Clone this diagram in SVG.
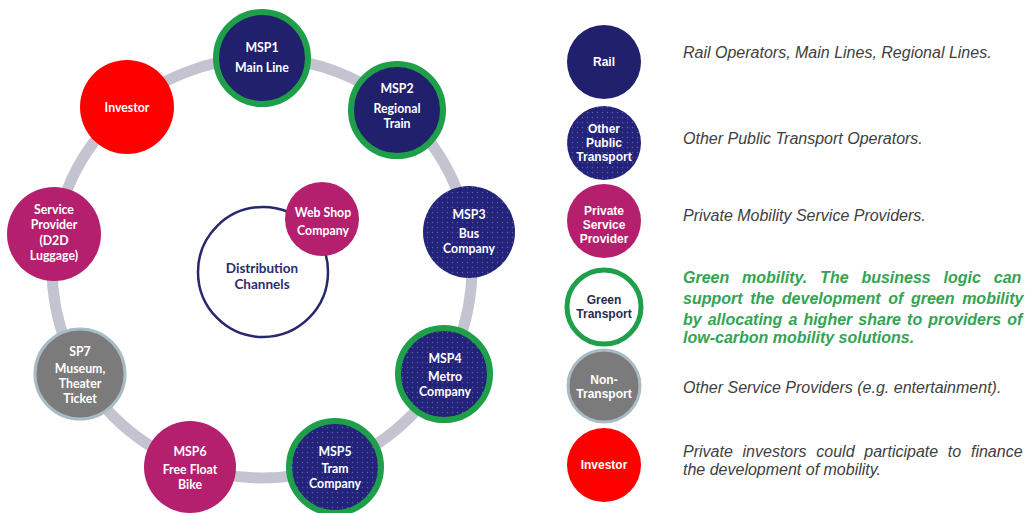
<svg xmlns="http://www.w3.org/2000/svg" width="1030" height="513" viewBox="0 0 1030 513">
<defs>
<pattern id="dots" width="5" height="5" patternUnits="userSpaceOnUse">
<rect width="5" height="5" fill="#23237a"/>
<circle cx="2.5" cy="2.5" r="0.7" fill="#5d5db5"/>
</pattern>
<style>
.rail{fill:#20206c}
.pub{fill:url(#dots)}
.priv{fill:#b4206e}
.inv{fill:#fe0000}
.non{fill:#7b7b7b;stroke:#a9bcc6;stroke-width:3}
.grn{stroke:#1f9f4a;stroke-width:6}
.nt{font-family:"Lato","Liberation Sans",sans-serif;font-weight:700;font-size:12.3px;fill:#fff;text-anchor:middle}
.lt{font-family:"Liberation Sans",Arial,sans-serif;font-weight:700;font-size:12px;fill:#fff;text-anchor:middle}
.desc{font-family:"Liberation Sans",Arial,sans-serif;font-style:italic;font-size:16px;fill:#404040}
.gdesc{font-family:"Liberation Sans",Arial,sans-serif;font-style:italic;font-weight:700;font-size:16px;fill:#33a453}
</style>
</defs>
<rect width="1030" height="513" fill="#fff"/>
<g id="connectors">
<circle cx="262" cy="268" r="210" fill="none" stroke="#c4c4d0" stroke-width="11"/>
</g>
<g id="distribution">
<circle cx="263" cy="272" r="65" fill="#fff" stroke="#27276e" stroke-width="2.5"/>
<text x="262" y="273" font-family="Lato,'Liberation Sans',sans-serif" font-weight="700" font-size="13.5" fill="#2b2b72" text-anchor="middle">Distribution</text>
<text x="262" y="289" font-family="Lato,'Liberation Sans',sans-serif" font-weight="700" font-size="13.5" fill="#2b2b72" text-anchor="middle">Channels</text>
</g>
<g id="webshop">
<circle cx="322" cy="219" r="37" class="priv"/>
<text class="nt" x="323" y="217">Web Shop</text>
<text class="nt" x="323" y="235">Company</text>
</g>
<g id="msp1">
<circle cx="262" cy="58" r="46" class="rail grn"/>
<text class="nt" x="262" y="52">MSP1</text>
<text class="nt" x="262" y="72">Main Line</text>
</g>
<g id="msp2">
<circle cx="397" cy="110" r="46" class="rail grn"/>
<text class="nt" x="397" y="93">MSP2</text>
<text class="nt" x="397" y="113">Regional</text>
<text class="nt" x="397" y="128">Train</text>
</g>
<g id="msp3">
<circle cx="469" cy="232" r="46" class="pub"/>
<text class="nt" x="469" y="219">MSP3</text>
<text class="nt" x="469" y="238">Bus</text>
<text class="nt" x="469" y="253">Company</text>
</g>
<g id="msp4">
<circle cx="444" cy="374" r="46" class="pub grn"/>
<text class="nt" x="445" y="363">MSP4</text>
<text class="nt" x="445" y="381">Metro</text>
<text class="nt" x="445" y="396">Company</text>
</g>
<g id="msp5">
<circle cx="335" cy="467" r="46" class="pub grn"/>
<text class="nt" x="335" y="456">MSP5</text>
<text class="nt" x="335" y="473">Tram</text>
<text class="nt" x="335" y="488">Company</text>
</g>
<g id="msp6">
<circle cx="190" cy="467" r="46" class="priv"/>
<text class="nt" x="190" y="456">MSP6</text>
<text class="nt" x="190" y="474">Free Float</text>
<text class="nt" x="190" y="489">Bike</text>
</g>
<g id="sp7">
<circle cx="80" cy="374" r="45" class="non"/>
<text class="nt" x="80" y="356">SP7</text>
<text class="nt" x="80" y="373">Museum,</text>
<text class="nt" x="80" y="388">Theater</text>
<text class="nt" x="80" y="403">Ticket</text>
</g>
<g id="serviceprovider">
<circle cx="54" cy="234" r="47" class="priv"/>
<text class="nt" x="54" y="214">Service</text>
<text class="nt" x="54" y="229">Provider</text>
<text class="nt" x="54" y="245">(D2D</text>
<text class="nt" x="54" y="260">Luggage)</text>
</g>
<g id="investor">
<circle cx="127" cy="107" r="47" class="inv"/>
<text class="nt" x="127" y="112">Investor</text>
</g>
<g id="legend">
<g id="leg-rail">
<circle cx="604" cy="62" r="37" class="rail"/>
<text class="lt" x="604" y="66">Rail</text>
<text class="desc" x="683" y="58">Rail Operators, Main Lines, Regional Lines.</text>
</g>
<g id="leg-public">
<circle cx="604" cy="143" r="37" class="pub"/>
<text class="lt" x="604" y="133">Other</text>
<text class="lt" x="604" y="147">Public</text>
<text class="lt" x="604" y="161">Transport</text>
<text class="desc" x="683" y="144">Other Public Transport Operators.</text>
</g>
<g id="leg-private">
<circle cx="604" cy="221" r="37" class="priv"/>
<text class="lt" x="604" y="215">Private</text>
<text class="lt" x="604" y="229">Service</text>
<text class="lt" x="604" y="243">Provider</text>
<text class="desc" x="683" y="221">Private Mobility Service Providers.</text>
</g>
<g id="leg-green">
<circle cx="604" cy="307" r="37" fill="#fff" stroke="#1f9f4a" stroke-width="5"/>
<text class="lt" x="604" y="304" style="fill:#2b2b50">Green</text>
<text class="lt" x="604" y="318" style="fill:#2b2b50">Transport</text>
<text class="gdesc" x="683" y="283" word-spacing="8.4">Green mobility. The business logic can</text>
<text class="gdesc" x="683" y="304" word-spacing="3.2">support the development of green mobility</text>
<text class="gdesc" x="683" y="325" word-spacing="1.6">by allocating a higher share to providers of</text>
<text class="gdesc" x="683" y="343">low-carbon mobility solutions.</text>
</g>
<g id="leg-non">
<circle cx="604" cy="386" r="36" class="non"/>
<text class="lt" x="604" y="384">Non-</text>
<text class="lt" x="604" y="398">Transport</text>
<text class="desc" x="683" y="393">Other Service Providers (e.g. entertainment).</text>
</g>
<g id="leg-investor">
<circle cx="604" cy="465" r="37" class="inv"/>
<text class="lt" x="604" y="469">Investor</text>
<text class="desc" x="683" y="457" word-spacing="5.3">Private investors could participate to finance</text>
<text class="desc" x="683" y="475">the development of mobility.</text>
</g>
</g>
</svg>
